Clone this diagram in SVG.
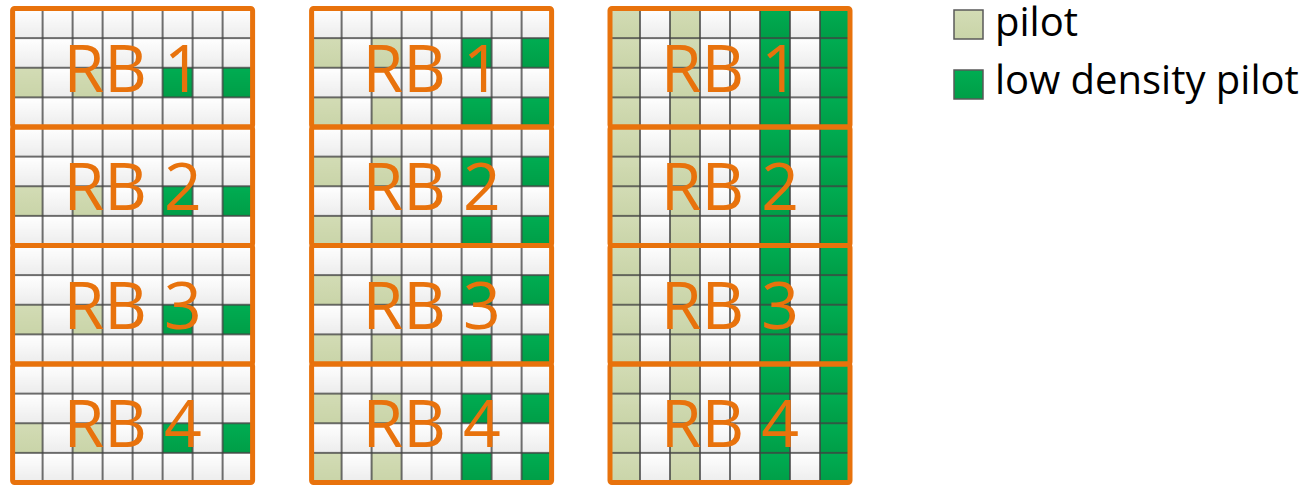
<svg xmlns="http://www.w3.org/2000/svg" xmlns:xlink="http://www.w3.org/1999/xlink" width="1316" height="486" viewBox="0 0 1316 486">
<style>
.rb{fill:none;stroke:#E8720C;stroke-width:5;}
.lbl{font-family:"Open Sans","Liberation Sans",sans-serif;font-size:66px;fill:#E8720C;text-anchor:middle;}
.leg{font-family:"Open Sans","Liberation Sans",sans-serif;font-size:40px;fill:#000;}
.cell{stroke:#404040;stroke-width:1.5;}
</style>
<defs>
<linearGradient id="gW" x1="0" y1="0" x2="0" y2="1"><stop offset="0" stop-color="#ffffff"/><stop offset="1" stop-color="#ececec"/></linearGradient>
<linearGradient id="gP" x1="0" y1="0" x2="0" y2="1"><stop offset="0" stop-color="#d3dcb5"/><stop offset="1" stop-color="#c9d4a8"/></linearGradient>
<linearGradient id="gG" x1="0" y1="0" x2="0" y2="1"><stop offset="0" stop-color="#00ad52"/><stop offset="1" stop-color="#009e47"/></linearGradient>
<pattern id="pW" patternUnits="userSpaceOnUse" x="0" y="0" width="30" height="29.625"><rect width="30" height="29.625" fill="url(#gW)" class="cell"/></pattern>
<pattern id="pP" patternUnits="userSpaceOnUse" x="0" y="0" width="30" height="29.625"><rect width="30" height="29.625" fill="url(#gP)" class="cell"/></pattern>
<pattern id="pG" patternUnits="userSpaceOnUse" x="0" y="0" width="30" height="29.625"><rect width="30" height="29.625" fill="url(#gG)" class="cell"/></pattern>
</defs>
<rect width="1316" height="486" fill="#ffffff"/>

<g id="grid1" transform="translate(12.6,8.5)">
<rect width="240" height="474" fill="url(#pW)"/>
<g fill="url(#pP)">
<rect x="0" y="59.25" width="30" height="29.625"/><rect x="60" y="59.25" width="30" height="29.625"/>
<rect x="0" y="177.75" width="30" height="29.625"/><rect x="60" y="177.75" width="30" height="29.625"/>
<rect x="0" y="296.25" width="30" height="29.625"/><rect x="60" y="296.25" width="30" height="29.625"/>
<rect x="0" y="414.75" width="30" height="29.625"/><rect x="60" y="414.75" width="30" height="29.625"/>
</g>
<g fill="url(#pG)">
<rect x="150" y="59.25" width="30" height="29.625"/><rect x="210" y="59.25" width="30" height="29.625"/>
<rect x="150" y="177.75" width="30" height="29.625"/><rect x="210" y="177.75" width="30" height="29.625"/>
<rect x="150" y="296.25" width="30" height="29.625"/><rect x="210" y="296.25" width="30" height="29.625"/>
<rect x="150" y="414.75" width="30" height="29.625"/><rect x="210" y="414.75" width="30" height="29.625"/>
</g>
<g id="g1rb1"><rect class="rb" x="0" y="0" width="240" height="118.5" rx="2"/><text class="lbl" x="120" y="83.3">RB 1</text></g>
<g id="g1rb2"><rect class="rb" x="0" y="118.5" width="240" height="118.5" rx="2"/><text class="lbl" x="120" y="201.8">RB 2</text></g>
<g id="g1rb3"><rect class="rb" x="0" y="237" width="240" height="118.5" rx="2"/><text class="lbl" x="120" y="320.3">RB 3</text></g>
<g id="g1rb4"><rect class="rb" x="0" y="355.5" width="240" height="118.5" rx="2"/><text class="lbl" x="120" y="438.8">RB 4</text></g>
</g>

<g id="grid2" transform="translate(311.6,8.5)">
<rect width="240" height="474" fill="url(#pW)"/>
<g fill="url(#pP)">
<rect x="0" y="29.625" width="30" height="29.625"/><rect x="60" y="29.625" width="30" height="29.625"/>
<rect x="0" y="88.875" width="30" height="29.625"/><rect x="60" y="88.875" width="30" height="29.625"/>
<rect x="0" y="148.125" width="30" height="29.625"/><rect x="60" y="148.125" width="30" height="29.625"/>
<rect x="0" y="207.375" width="30" height="29.625"/><rect x="60" y="207.375" width="30" height="29.625"/>
<rect x="0" y="266.625" width="30" height="29.625"/><rect x="60" y="266.625" width="30" height="29.625"/>
<rect x="0" y="325.875" width="30" height="29.625"/><rect x="60" y="325.875" width="30" height="29.625"/>
<rect x="0" y="385.125" width="30" height="29.625"/><rect x="60" y="385.125" width="30" height="29.625"/>
<rect x="0" y="444.375" width="30" height="29.625"/><rect x="60" y="444.375" width="30" height="29.625"/>
</g>
<g fill="url(#pG)">
<rect x="150" y="29.625" width="30" height="29.625"/><rect x="210" y="29.625" width="30" height="29.625"/>
<rect x="150" y="88.875" width="30" height="29.625"/><rect x="210" y="88.875" width="30" height="29.625"/>
<rect x="150" y="148.125" width="30" height="29.625"/><rect x="210" y="148.125" width="30" height="29.625"/>
<rect x="150" y="207.375" width="30" height="29.625"/><rect x="210" y="207.375" width="30" height="29.625"/>
<rect x="150" y="266.625" width="30" height="29.625"/><rect x="210" y="266.625" width="30" height="29.625"/>
<rect x="150" y="325.875" width="30" height="29.625"/><rect x="210" y="325.875" width="30" height="29.625"/>
<rect x="150" y="385.125" width="30" height="29.625"/><rect x="210" y="385.125" width="30" height="29.625"/>
<rect x="150" y="444.375" width="30" height="29.625"/><rect x="210" y="444.375" width="30" height="29.625"/>
</g>
<g id="g2rb1"><rect class="rb" x="0" y="0" width="240" height="118.5" rx="2"/><text class="lbl" x="120" y="83.3">RB 1</text></g>
<g id="g2rb2"><rect class="rb" x="0" y="118.5" width="240" height="118.5" rx="2"/><text class="lbl" x="120" y="201.8">RB 2</text></g>
<g id="g2rb3"><rect class="rb" x="0" y="237" width="240" height="118.5" rx="2"/><text class="lbl" x="120" y="320.3">RB 3</text></g>
<g id="g2rb4"><rect class="rb" x="0" y="355.5" width="240" height="118.5" rx="2"/><text class="lbl" x="120" y="438.8">RB 4</text></g>
</g>

<g id="grid3" transform="translate(610,8.5)">
<rect width="240" height="474" fill="url(#pW)"/>
<rect x="0" y="0" width="30" height="474" fill="url(#pP)"/>
<rect x="60" y="0" width="30" height="474" fill="url(#pP)"/>
<rect x="150" y="0" width="30" height="474" fill="url(#pG)"/>
<rect x="210" y="0" width="30" height="474" fill="url(#pG)"/>
<g id="g3rb1"><rect class="rb" x="0" y="0" width="240" height="118.5" rx="2"/><text class="lbl" x="120" y="83.3">RB 1</text></g>
<g id="g3rb2"><rect class="rb" x="0" y="118.5" width="240" height="118.5" rx="2"/><text class="lbl" x="120" y="201.8">RB 2</text></g>
<g id="g3rb3"><rect class="rb" x="0" y="237" width="240" height="118.5" rx="2"/><text class="lbl" x="120" y="320.3">RB 3</text></g>
<g id="g3rb4"><rect class="rb" x="0" y="355.5" width="240" height="118.5" rx="2"/><text class="lbl" x="120" y="438.8">RB 4</text></g>
</g>

<g id="legend">
<g id="leg-pilot"><rect x="954" y="10" width="29" height="29" fill="url(#gP)" stroke="#595959" stroke-width="1.5"/><text class="leg" x="995" y="36">pilot</text></g>
<g id="leg-ldp"><rect x="954" y="70" width="29" height="29" fill="url(#gG)" stroke="#595959" stroke-width="1.5"/><text class="leg" x="995" y="94">low density pilot</text></g>
</g>
<g id="connectors"/>
</svg>
